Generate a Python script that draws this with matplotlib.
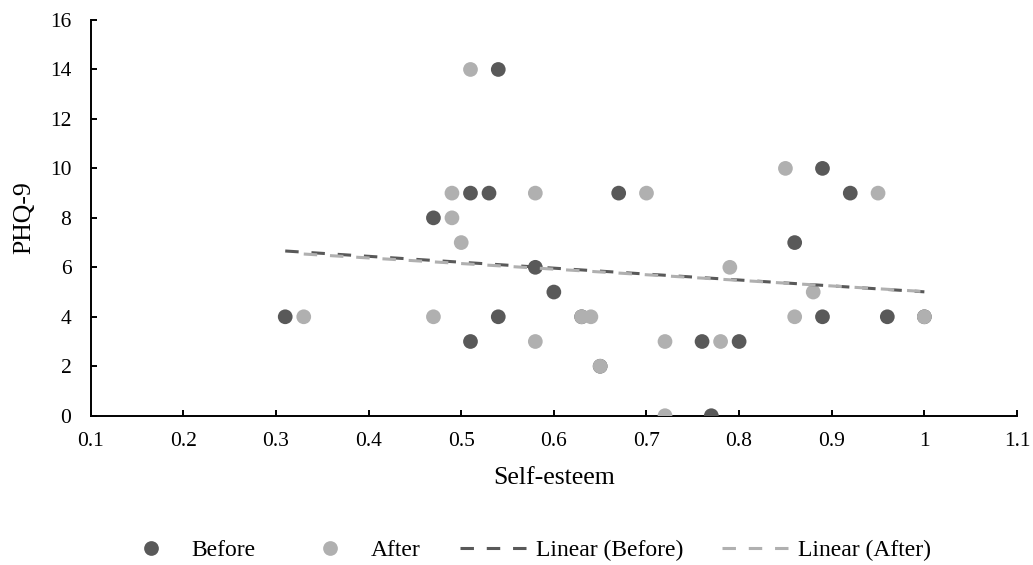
import numpy as np
import matplotlib
matplotlib.use("Agg")
import matplotlib.pyplot as plt
from matplotlib.lines import Line2D

plt.rcParams['font.family'] = ['Liberation Serif', 'DejaVu Serif']

# Data
before_x = [0.54, 0.51, 0.53, 0.67, 0.47, 0.58, 0.60, 0.31, 0.54, 0.51, 0.89,
            0.92, 0.86, 0.89, 0.96, 0.76, 0.80, 0.77, 0.63, 0.65, 1.00]
before_y = [14, 9, 9, 9, 8, 6, 5, 4, 4, 3, 10,
            9, 7, 4, 4, 3, 3, 0, 4, 2, 4]
after_x = [0.51, 0.49, 0.58, 0.70, 0.49, 0.50, 0.33, 0.47, 0.63, 0.64, 0.58,
           0.65, 0.85, 0.95, 0.79, 0.88, 0.86, 1.00, 0.72, 0.78, 0.72]
after_y = [14, 9, 9, 9, 8, 7, 4, 4, 4, 4, 3,
           2, 10, 9, 6, 5, 4, 4, 3, 3, 0]

x_ticks = [0.1, 0.2, 0.3, 0.4, 0.5, 0.6, 0.7, 0.8, 0.9, 1.0, 1.1]
x_tick_labels = ["0.1", "0.2", "0.3", "0.4", "0.5", "0.6", "0.7", "0.8", "0.9", "1", "1.1"]
y_ticks = [0, 2, 4, 6, 8, 10, 12, 14, 16]

dark = '#595959'
light = '#B0B0B0'

W, H = 1033, 565
fig = plt.figure(figsize=(W / 100, H / 100), dpi=100)
ax = fig.add_axes([90.7 / W, 1 - 415.7 / H, (1017 - 90.7) / W, (415.7 - 20) / H])

ms = 10.6
ax.scatter(before_x, before_y, s=ms ** 2, color=dark, edgecolors='none', zorder=3)
ax.scatter(after_x, after_y, s=ms ** 2, color=light, edgecolors='none', zorder=4)

lw = 2.2
dash = (4.4, 4.2)
for xs, ys, col, z in [(before_x, before_y, dark, 5), (after_x, after_y, light, 6)]:
    xs = np.asarray(xs, float)
    ys = np.asarray(ys, float)
    m, b = np.polyfit(xs, ys, 1)
    xx = np.array([xs.min(), xs.max()])
    ln, = ax.plot(xx, m * xx + b, color=col, lw=lw, zorder=z)
    ln.set_dashes(dash)

ax.set_xlim(0.1, 1.1)
ax.set_ylim(0, 16)
ax.set_xticks(x_ticks)
ax.set_xticklabels(x_tick_labels)
ax.set_yticks(y_ticks)

for s in ['top', 'right']:
    ax.spines[s].set_visible(False)
for s in ['left', 'bottom']:
    ax.spines[s].set_linewidth(1.4)
    ax.spines[s].set_color('black')

ax.tick_params(axis='both', direction='in', length=4.5, width=1.4, labelsize=15.5, colors='black')
ax.tick_params(axis='y', pad=14)
ax.tick_params(axis='x', pad=12)

ax.set_xlabel('Self-esteem', fontsize=18.5)
ax.set_ylabel('PHQ-9', fontsize=18.5)
ax.xaxis.set_label_coords(0.5, -(467 - 415.7) / 395.7)
ax.yaxis.set_label_coords((35 - 90.7) / 926.3, 0.5)

handles = [
    Line2D([], [], ls='none', marker='o', ms=ms, color=dark, mec='none'),
    Line2D([], [], ls='none', marker='o', ms=ms, color=light, mec='none'),
    Line2D([], [], color=dark, lw=lw, dashes=dash),
    Line2D([], [], color=light, lw=lw, dashes=dash),
]
labels = ['Before', 'After', 'Linear (Before)', 'Linear (After)']
fs_leg = 17
em = fs_leg * 100 / 72
fig.legend(handles, labels, loc='center', bbox_to_anchor=(523.4 / W, 1 - 550 / H),
           ncol=4, frameon=False, fontsize=fs_leg, borderpad=0, borderaxespad=0,
           handlelength=70 / em, handletextpad=6 / em, columnspacing=39 / em)

fig.savefig('out.png', dpi=100)
